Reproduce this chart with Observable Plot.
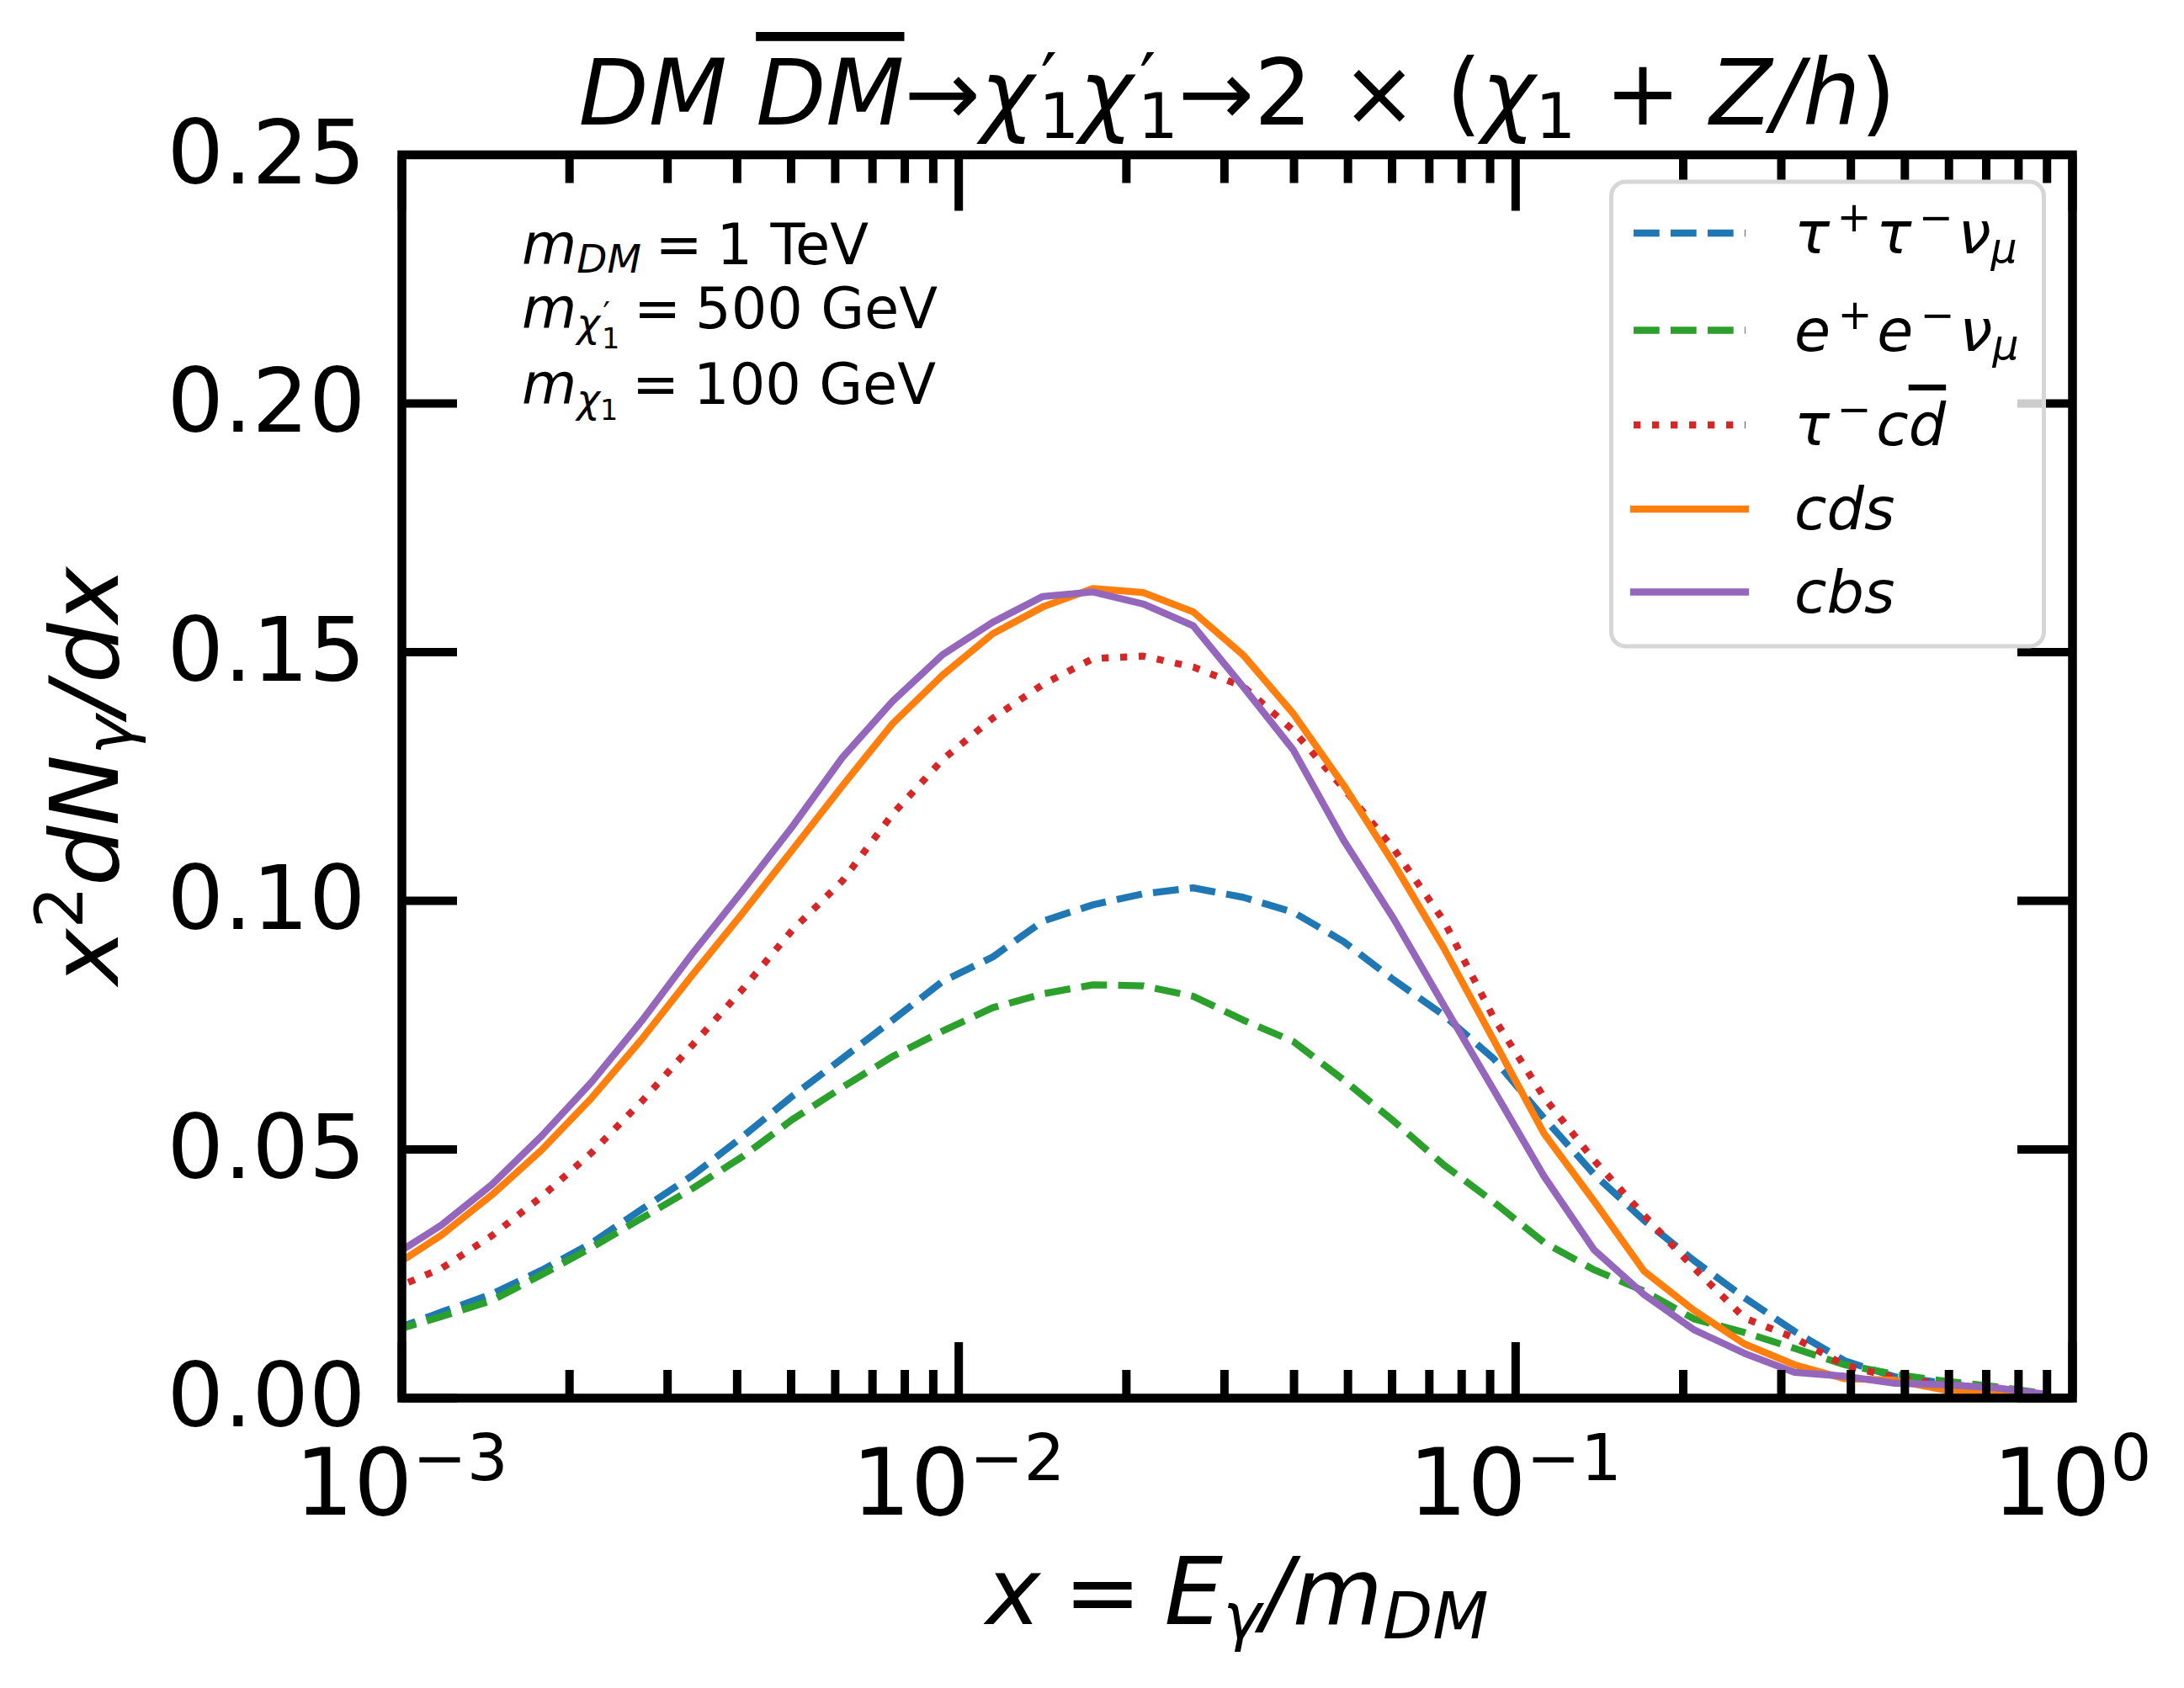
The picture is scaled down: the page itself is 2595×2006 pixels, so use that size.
<!DOCTYPE html>
<html><head><meta charset="utf-8">
<script src="https://cdn.jsdelivr.net/npm/d3@7"></script>
<script src="https://cdn.jsdelivr.net/npm/@observablehq/plot@0.6"></script>
<style>html,body{margin:0;padding:0;background:#fff;} svg{display:block}</style>
</head><body><div id="chart"></div><script>
// ---- data ----
const xValues = [0.000957,0.001178,0.001449,0.001782,0.002193,0.002698,0.003319,0.004083,0.005023,0.006180,
  0.007603,0.009354,0.011508,0.014158,0.017418,0.021429,0.026363,0.032434,0.039902,0.049091,
  0.060395,0.074302,0.091411,0.112460,0.138357,0.170216,0.209411,0.257632,0.316957,0.389942,
  0.479733,0.590201,0.726106,0.893305];
const tauTauNu = [0.0136,0.0173,0.0209,0.0257,0.0312,0.0380,0.0447,0.0525,0.0607,0.0683,
  0.0760,0.0838,0.0887,0.0959,0.0992,0.1014,0.1026,0.1007,0.0977,0.0918,
  0.0841,0.0770,0.0682,0.0563,0.0450,0.0357,0.0276,0.0202,0.0134,0.0075,
  0.0043,0.0030,0.0015,0.0005];
const eeNu = [0.0134,0.0164,0.0196,0.0248,0.0303,0.0362,0.0421,0.0485,0.0560,0.0625,
  0.0687,0.0738,0.0785,0.0813,0.0831,0.0829,0.0808,0.0760,0.0717,0.0640,
  0.0557,0.0469,0.0394,0.0313,0.0258,0.0215,0.0159,0.0132,0.0100,0.0067,
  0.0048,0.0034,0.0023,0.0009];
const tauCD = [0.0218,0.0261,0.0326,0.0405,0.0494,0.0597,0.0709,0.0821,0.0941,0.1040,
  0.1174,0.1284,0.1367,0.1435,0.1487,0.1492,0.1470,0.1431,0.1342,0.1226,
  0.1105,0.0960,0.0764,0.0605,0.0478,0.0367,0.0261,0.0161,0.0121,0.0066,
  0.0041,0.0027,0.0015,0.0005];
const cds = [0.0262,0.0328,0.0408,0.0499,0.0604,0.0722,0.0850,0.0974,0.1102,0.1231,
  0.1356,0.1454,0.1537,0.1591,0.1628,0.1620,0.1581,0.1494,0.1376,0.1233,
  0.1075,0.0905,0.0719,0.0532,0.0396,0.0255,0.0176,0.0109,0.0067,0.0039,
  0.0036,0.0016,0.0010,0.0004];
const cbs = [0.0284,0.0348,0.0429,0.0527,0.0636,0.0759,0.0893,0.1019,0.1149,0.1288,
  0.1401,0.1495,0.1560,0.1612,0.1621,0.1597,0.1553,0.1430,0.1303,0.1122,
  0.0964,0.0790,0.0619,0.0446,0.0298,0.0208,0.0137,0.0090,0.0052,0.0044,
  0.0030,0.0027,0.0021,0.0008];

const yTicks = [0, 0.05, 0.10, 0.15, 0.20, 0.25];
const yTickLabels = ["0.00","0.05","0.10","0.15","0.20","0.25"];
const xMajorTicks = [0.001, 0.01, 0.1, 1];
const xTickExponents = ["\u22123","\u22122","\u22121","0"];
const xMinorTicks = [0.002,0.003,0.004,0.005,0.006,0.007,0.008,0.009,
  0.02,0.03,0.04,0.05,0.06,0.07,0.08,0.09,
  0.2,0.3,0.4,0.5,0.6,0.7,0.8,0.9];

const seriesNames = ["tauTauNu","eeNu","tauCD","cds","cbs"];
const seriesValues = [tauTauNu, eeNu, tauCD, cds, cbs];
const seriesColors = ["#1f77b4","#2ca02c","#d62728","#ff7f0e","#9467bd"];
const LW = 8.3;
const seriesDash = [`${3.7*LW},${1.6*LW}`, `${3.7*LW},${1.6*LW}`, `${1*LW},${1.65*LW}`, null, null];

// ---- plot ----
const lineMarks = seriesValues.map((vals, k) =>
  Plot.line(xValues.map((x, i) => ({x, y: vals[i]})), {
    x: "x", y: "y", stroke: seriesColors[k], strokeWidth: LW,
    strokeDasharray: seriesDash[k] || undefined,
    strokeLinejoin: "round", strokeLinecap: seriesDash[k] ? "butt" : "square",
    clip: true
  })
);

const blank = () => "";
const chart = Plot.plot({
  width: 2595, height: 2006,
  marginLeft: 477, marginRight: 133, marginTop: 183.5, marginBottom: 345,
  style: {fontFamily: "DejaVu Sans", fontSize: "106px", background: "white", color: "black", overflow: "visible"},
  x: {type: "log", domain: [1e-3, 1]},
  y: {domain: [0, 0.25]},
  marks: [
    ...lineMarks,
    Plot.axisX({anchor: "bottom", ticks: xMinorTicks, tickSize: -33, tickFormat: blank, strokeWidth: 10, label: null}),
    Plot.axisX({anchor: "top", ticks: xMinorTicks, tickSize: -33, tickFormat: blank, strokeWidth: 10, label: null}),
    Plot.axisX({anchor: "bottom", ticks: xMajorTicks, tickSize: -66, tickFormat: blank, strokeWidth: 10, label: null}),
    Plot.axisX({anchor: "top", ticks: xMajorTicks, tickSize: -66, tickFormat: blank, strokeWidth: 10, label: null}),
    Plot.axisY({anchor: "left", ticks: yTicks, tickSize: -66, tickPadding: 109,
      tickFormat: d => yTickLabels[yTicks.indexOf(d)], strokeWidth: 10, label: null, fontSize: 106}),
    Plot.axisY({anchor: "right", ticks: yTicks, tickSize: -66, tickFormat: blank, strokeWidth: 10, label: null}),
    Plot.frame({stroke: "black", strokeWidth: 10.5})
  ]
});
document.getElementById("chart").appendChild(chart);

// ---- rich text (math-like) helper ----
const svg = d3.select(chart);
function rich(x, y, size, parts, {anchor = "start", rotate = 0} = {}) {
  const t = svg.append("text").attr("x", x).attr("y", y)
    .attr("font-size", size).attr("font-family", "DejaVu Sans")
    .attr("text-anchor", anchor).attr("fill", "black").style("white-space", "pre");
  if (rotate) t.attr("transform", `rotate(${rotate},${x},${y})`);
  let cur = 0, prev = null;
  for (const p of parts) {
    const s = p.s || 1, off = (p.off || 0) * size;
    const ts = t.append("tspan").text(p.t).attr("font-size", size * s).attr("dy", -(off - cur));
    ts.attr("font-style", p.i ? "italic" : "normal");
    let dx = (p.dx || 0) * size;
    if (p.back && prev) dx -= prev.node().getComputedTextLength();
    if (dx) ts.attr("dx", dx);
    if (p.over) ts.attr("text-decoration", "overline");
    cur = off; prev = ts;
  }
  return t;
}
const SUP = 0.37, SUB = -0.15, SS = 0.7;
const TS = "\u2005"; // thinner space around relations

// title
rich(1470, 148, 108, [
  {t: "DM", i: 1}, {t: " "}, {t: "DM", i: 1, over: 1}, {t: "\u2192"},
  {t: "\u03c7", i: 1}, {t: "\u2032", s: 0.8, off: 0.2, dx: 0.07}, {t: "1", s: SS, off: SUB, back: 1, dx: -0.02},
  {t: "\u03c7", i: 1}, {t: "\u2032", s: 0.8, off: 0.2, dx: 0.07}, {t: "1", s: SS, off: SUB, back: 1, dx: -0.02},
  {t: "\u2192"}, {t: "2 \u00d7 ("}, {t: "\u03c7", i: 1}, {t: "1", s: SS, off: SUB},
  {t: " + "}, {t: "Z/h", i: 1}, {t: ")"}
], {anchor: "middle"});

// axis labels
rich(140, 922, 113, [
  {t: "x", i: 1}, {t: "2", s: SS, off: SUP}, {t: "dN", i: 1}, {t: "\u03b3", i: 1, s: SS, off: SUB},
  {t: "/dx", i: 1}
], {anchor: "middle", rotate: -90});
rich(1470, 1930, 110, [
  {t: "x", i: 1}, {t: TS + "=" + TS}, {t: "E", i: 1}, {t: "\u03b3", i: 1, s: SS, off: SUB},
  {t: "/m", i: 1}, {t: "DM", i: 1, s: SS, off: SUB}
], {anchor: "middle"});

// x tick labels via the plot's own x scale
const sx = chart.scale("x");
xMajorTicks.forEach((v, k) => {
  rich(sx.apply(v), 1800, 110, [{t: "10"}, {t: xTickExponents[k], s: SS, off: SUP}], {anchor: "middle"});
});

// annotation
const AS = 67;
rich(620, 314, AS, [{t: "m", i: 1}, {t: "DM", i: 1, s: SS, off: SUB}, {t: TS + "=" + TS + "1 TeV"}]);
rich(620, 390, AS, [{t: "m", i: 1}, {t: "\u03c7", i: 1, s: SS, off: SUB},
  {t: "\u2032", s: 0.55, off: 0.08, dx: 0.05}, {t: "1", s: 0.5, off: -0.36, back: 1, dx: -0.02},
  {t: TS + "=" + TS + "500 GeV"}]);
rich(620, 480, AS, [{t: "m", i: 1}, {t: "\u03c7", i: 1, s: SS, off: SUB},
  {t: "1", s: 0.5, off: -0.28}, {t: TS + "=" + TS + "100 GeV"}]);

// legend
const lg = svg.append("g");
lg.append("rect").attr("x", 1914.5).attr("y", 216).attr("width", 514).attr("height", 552)
  .attr("rx", 17).attr("fill", "white").attr("fill-opacity", 0.8)
  .attr("stroke", "#d6d6d6").attr("stroke-width", 5);
const legendRowsY = [277, 392.5, 505, 605, 703.5];
const legendLabels = [
  [{t: "\u03c4", i: 1}, {t: "+", s: SS, off: SUP, dx: 0.12}, {t: "\u03c4", i: 1, dx: 0.08}, {t: "\u2212", s: SS, off: SUP, dx: 0.12},
   {t: "\u03bd", i: 1, dx: 0.08}, {t: "\u03bc", i: 1, s: SS, off: SUB}],
  [{t: "e", i: 1}, {t: "+", s: SS, off: SUP, dx: 0.12}, {t: "e", i: 1, dx: 0.08}, {t: "\u2212", s: SS, off: SUP, dx: 0.12},
   {t: "\u03bd", i: 1, dx: 0.08}, {t: "\u03bc", i: 1, s: SS, off: SUB}],
  [{t: "\u03c4", i: 1}, {t: "\u2212", s: SS, off: SUP, dx: 0.12}, {t: "c", i: 1, dx: 0.08}, {t: "d", i: 1, over: 1}],
  [{t: "cds", i: 1}],
  [{t: "cbs", i: 1}]
];
seriesNames.forEach((name, k) => {
  const y = legendRowsY[k];
  const ln = lg.append("line").attr("x1", 1941).attr("x2", 2074).attr("y1", y).attr("y2", y)
    .attr("stroke", seriesColors[k]).attr("stroke-width", LW)
    .attr("stroke-linecap", seriesDash[k] ? "butt" : "square");
  if (seriesDash[k]) ln.attr("stroke-dasharray", seriesDash[k]);
  rich(2132, y + 24, 70, legendLabels[k]);
});
</script></body></html>
